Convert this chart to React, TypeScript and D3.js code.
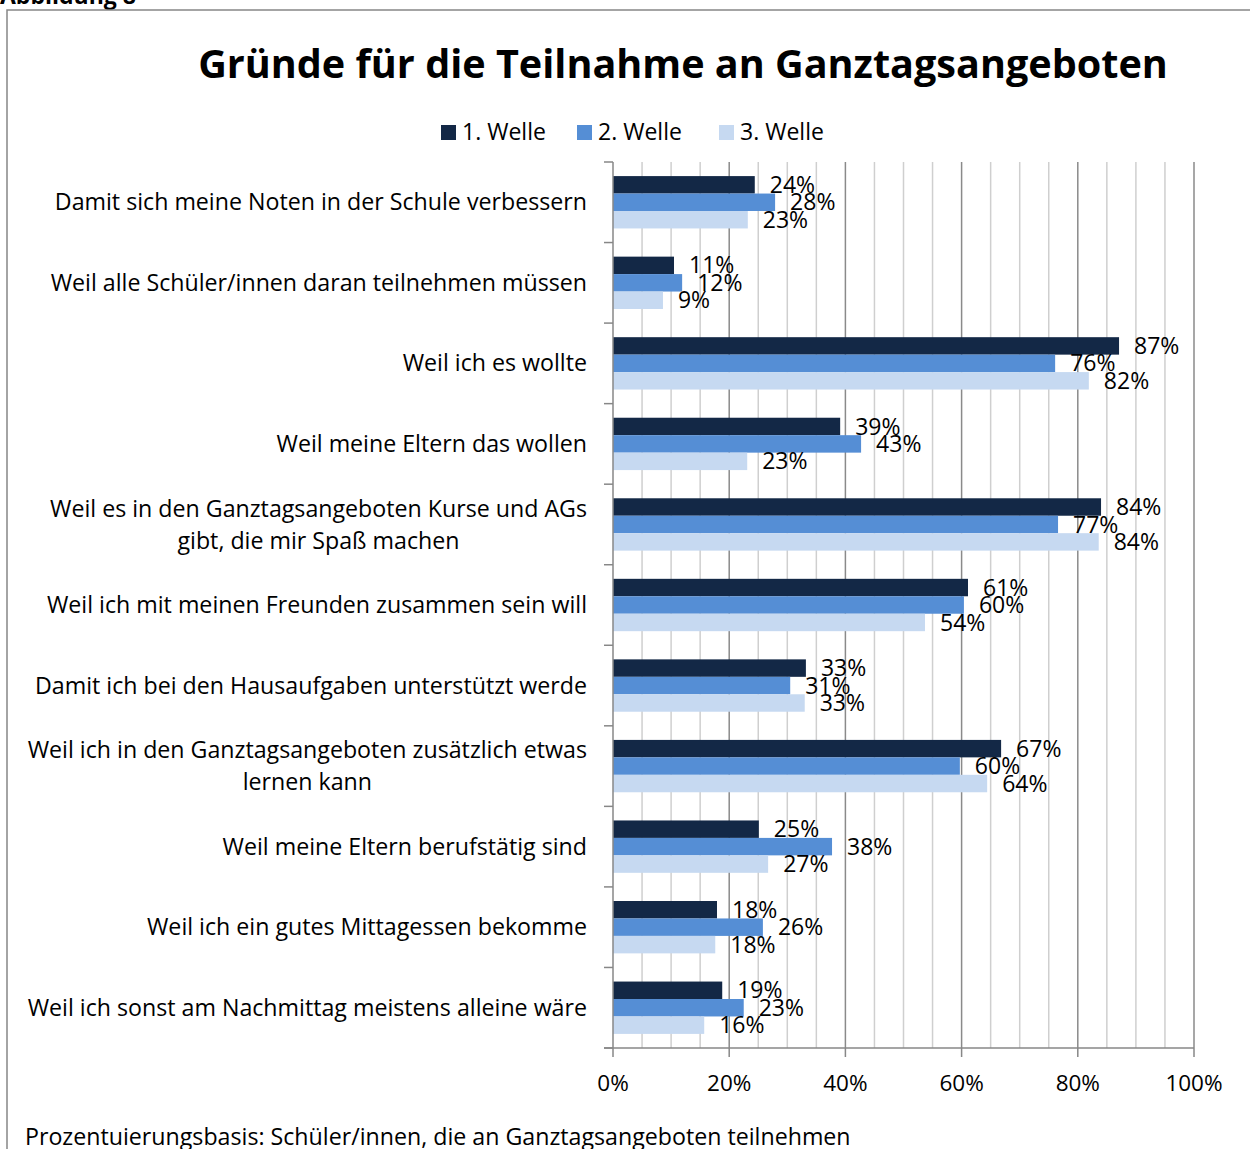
import React, { useEffect, useRef } from "react";
import * as d3 from "d3";

const categories: string[][] = [
  ["Damit sich meine Noten in der Schule verbessern"],
  ["Weil alle Schüler/innen daran teilnehmen müssen"],
  ["Weil ich es wollte"],
  ["Weil meine Eltern das wollen"],
  ["Weil es in den Ganztagsangeboten Kurse und AGs", "gibt, die mir Spaß machen"],
  ["Weil ich mit meinen Freunden zusammen sein will"],
  ["Damit ich bei den Hausaufgaben unterstützt werde"],
  ["Weil ich in den Ganztagsangeboten zusätzlich etwas", "lernen kann"],
  ["Weil meine Eltern berufstätig sind"],
  ["Weil ich ein gutes Mittagessen bekomme"],
  ["Weil ich sonst am Nachmittag meistens alleine wäre"],
];

const series = ["1. Welle", "2. Welle", "3. Welle"];
const welle1 = [24.4, 10.5, 87.1, 39.1, 84.0, 61.1, 33.2, 66.8, 25.1, 17.9, 18.8];
const welle2 = [27.9, 11.9, 76.1, 42.7, 76.6, 60.4, 30.5, 59.7, 37.7, 25.8, 22.5];
const welle3 = [23.2, 8.6, 81.9, 23.1, 83.6, 53.7, 33.0, 64.4, 26.7, 17.6, 15.7];
const xTicks = [0, 20, 40, 60, 80, 100];
const colors = ["#132846", "#558ED5", "#C6D9F1"];

const FONT = "'Open Sans', 'Noto Sans', sans-serif";

export default function App() {
  const ref = useRef<SVGSVGElement>(null);

  useEffect(() => {
    const svg = d3.select(ref.current);
    svg.selectAll("*").remove();

    // header
    svg.append("text").attr("x", 0).attr("y", 4).attr("font-family", FONT)
      .attr("font-weight", "bold").attr("font-size", 23).attr("fill", "#000").text("Abbildung 8");
    svg.append("rect").attr("x", 7).attr("y", 10).attr("width", 1300).attr("height", 1300)
      .attr("fill", "none").attr("stroke", "#878787").attr("stroke-width", 1.5);

    svg.append("text").attr("x", 683).attr("y", 78).attr("text-anchor", "middle")
      .attr("font-family", FONT).attr("font-weight", "bold").attr("font-size", 39.6)
      .attr("fill", "#000").text("Gründe für die Teilnahme an Ganztagsangeboten");

    // legend
    const legX = [441, 577, 719];
    series.forEach((s, i) => {
      svg.append("rect").attr("x", legX[i]).attr("y", 125).attr("width", 15).attr("height", 15).attr("fill", colors[i]);
      svg.append("text").attr("x", legX[i] + 21).attr("y", 140).attr("font-family", FONT)
        .attr("font-size", 23).attr("fill", "#000").text(s);
    });

    const x = d3.scaleLinear().domain([0, 100]).range([613, 1194]);
    const y = d3.scaleBand<number>().domain(d3.range(categories.length)).range([162, 1048]).paddingInner(0.35).paddingOuter(0.175);
    const sub = d3.scaleBand<number>().domain([0, 1, 2]).range([0, y.bandwidth()]);

    // gridlines
    const grid = d3.range(5, 101, 5);
    svg.append("g").selectAll("line").data(grid).join("line")
      .attr("x1", (d) => x(d)).attr("x2", (d) => x(d)).attr("y1", 162).attr("y2", 1048)
      .attr("stroke", (d) => (d % 20 === 0 ? "#8a8a8a" : "#cfcfcf")).attr("stroke-width", 1.5);

    // bars
    const data = [welle1, welle2, welle3];
    data.forEach((vals, si) => {
      svg.append("g").selectAll("rect").data(vals).join("rect")
        .attr("x", x(0)).attr("y", (_d, i) => (y(i) as number) + (sub(si) as number))
        .attr("width", (d) => x(d) - x(0)).attr("height", sub.bandwidth())
        .attr("fill", colors[si]);
    });

    // axes
    const yEdges = d3.range(categories.length + 1).map((i) => 162 + (i * (1048 - 162)) / categories.length);
    svg.append("line").attr("x1", 613).attr("x2", 613).attr("y1", 162).attr("y2", 1048).attr("stroke", "#878787").attr("stroke-width", 1.5);
    svg.append("g").selectAll("line").data(yEdges).join("line")
      .attr("x1", 604).attr("x2", 613).attr("y1", (d) => d).attr("y2", (d) => d)
      .attr("stroke", "#878787").attr("stroke-width", 1.5);
    svg.append("line").attr("x1", 604).attr("x2", 1194).attr("y1", 1048).attr("y2", 1048).attr("stroke", "#878787").attr("stroke-width", 1.5);
    const xa = svg.append("g");
    xa.selectAll("line").data(xTicks).join("line")
      .attr("x1", (d) => x(d)).attr("x2", (d) => x(d)).attr("y1", 1048).attr("y2", 1057)
      .attr("stroke", "#878787").attr("stroke-width", 1.5);
    xa.selectAll("text").data(xTicks).join("text")
      .attr("x", (d) => x(d)).attr("y", 1091).attr("text-anchor", "middle")
      .attr("font-family", FONT).attr("font-size", 22.5).attr("fill", "#000").text((d) => `${d}%`);

    // category labels
    const LF = 23.2;
    categories.forEach((lines, i) => {
      const cy = (y(i) as number) + y.bandwidth() / 2;
      const t = svg.append("text").attr("font-family", FONT).attr("font-size", LF).attr("fill", "#000");
      if (lines.length === 1) {
        t.attr("x", 587).attr("y", cy).attr("dy", "0.35em").attr("text-anchor", "end").text(lines[0]);
      } else {
        const tmp = svg.append("text").attr("font-family", FONT).attr("font-size", LF).text(lines[0]);
        const w = (tmp.node() as SVGTextElement).getComputedTextLength();
        tmp.remove();
        const cx = 587 - w / 2;
        lines.forEach((ln, k) => {
          t.append("tspan").attr("x", cx).attr("y", cy + (k - (lines.length - 1) / 2) * 32)
            .attr("dy", "0.35em").attr("text-anchor", "middle").text(ln);
        });
      }
    });

    // value labels
    data.forEach((vals, si) => {
      svg.append("g").selectAll("text").data(vals).join("text")
        .attr("x", (d) => x(d) + 15)
        .attr("y", (_d, i) => (y(i) as number) + (sub(si) as number) + sub.bandwidth() / 2)
        .attr("dy", "0.35em").attr("font-family", FONT).attr("font-size", 23).attr("fill", "#000")
        .text((d) => `${Math.round(d)}%`);
    });

    // footnote
    svg.append("text").attr("x", 25).attr("y", 1145).attr("font-family", FONT).attr("font-size", 23.2)
      .attr("fill", "#000").text("Prozentuierungsbasis: Schüler/innen, die an Ganztagsangeboten teilnehmen");
  }, []);

  return (
    <svg ref={ref} width={1250} height={1149}
      style={{ position: "absolute", left: 0, top: 0, background: "#fff", overflow: "hidden" }} />
  );
}
